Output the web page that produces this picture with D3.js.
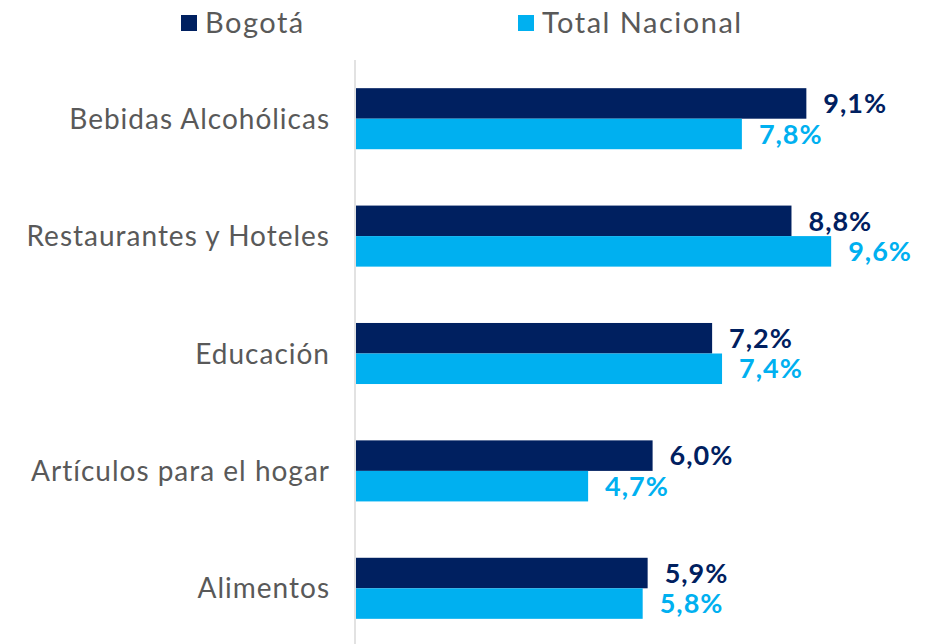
<!DOCTYPE html>
<html>
<head>
<meta charset="utf-8">
<script src="https://cdn.jsdelivr.net/npm/d3@7"></script>
<style>
  body { margin: 0; background: #fff; }
  svg { display: block; font-family: Lato, "Noto Sans", sans-serif; }
</style>
</head>
<body>
<div class="graph"></div>
<script>
// datos: variación anual por grupo de gasto (%)
const categorias = ['Bebidas Alcohólicas', 'Restaurantes y Hoteles', 'Educación', 'Artículos para el hogar', 'Alimentos'];
const series = ['Bogotá', 'Total Nacional'];
const bogota = [9.1, 8.8, 7.2, 6.0, 5.9];
const nacional = [7.8, 9.6, 7.4, 4.7, 5.8];
const colores = ['#002060', '#00B0F0'];

const W = 928, H = 644;
const svg = d3.select('.graph').append('svg').attr('width', W).attr('height', H);

const rows = categorias.map((c, i) => ({ cat: c, vals: [bogota[i], nacional[i]] }));

const x = d3.scaleLinear().domain([0, 10]).range([355, 851]);
const y = d3.scaleBand().domain(categorias).range([60, 647]).paddingInner(0.48).paddingOuter(0.24);
const ySub = d3.scaleBand().domain(series).range([0, y.bandwidth()]);

// eje vertical
svg.append('line')
    .attr('x1', x(0)).attr('x2', x(0))
    .attr('y1', 60).attr('y2', H)
    .attr('stroke', '#D9D9D9').attr('stroke-width', 1.5);

const g = svg.selectAll('g.cat')
    .data(rows)
    .enter()
    .append('g')
    .attr('class', 'cat')
    .attr('transform', d => `translate(0,${y(d.cat)})`);

g.selectAll('rect')
    .data(d => d.vals.map((v, k) => ({ s: series[k], v, k })))
    .enter()
    .append('rect')
    .attr('x', x(0) + 1)
    .attr('y', d => ySub(d.s))
    .attr('width', d => x(d.v) - x(0) - 1)
    .attr('height', ySub.bandwidth())
    .attr('fill', d => colores[d.k]);

g.selectAll('text.val')
    .data(d => d.vals.map((v, k) => ({ s: series[k], v, k })))
    .enter()
    .append('text')
    .attr('class', 'val')
    .attr('x', d => x(d.v) + 17)
    .attr('y', d => ySub(d.s) + ySub.bandwidth() / 2)
    .attr('dy', '0.36em')
    .attr('font-size', 27)
    .attr('font-weight', 'bold')
    .attr('letter-spacing', 1)
    .attr('fill', d => colores[d.k])
    .text(d => d3.format('.1f')(d.v).replace('.', ',') + '%');

// etiquetas de categorías
svg.selectAll('text.cat')
    .data(categorias)
    .enter()
    .append('text')
    .attr('class', 'cat')
    .attr('x', 330)
    .attr('y', d => y(d) + y.bandwidth() / 2)
    .attr('dy', '0.36em')
    .attr('text-anchor', 'end')
    .attr('font-size', 28)
    .attr('letter-spacing', 1)
    .attr('fill', '#595959')
    .text(d => d);

// leyenda
const leg = svg.selectAll('g.leg')
    .data(series)
    .enter()
    .append('g')
    .attr('class', 'leg')
    .attr('transform', (d, i) => `translate(${[181, 518][i]},15)`);

leg.append('rect')
    .attr('width', 16).attr('height', 16)
    .attr('fill', (d, i) => colores[i]);

leg.append('text')
    .attr('x', 24).attr('y', 18)
    .attr('font-size', 29)
    .attr('letter-spacing', 1.5)
    .attr('fill', '#595959')
    .text(d => d);
</script>
</body>
</html>
